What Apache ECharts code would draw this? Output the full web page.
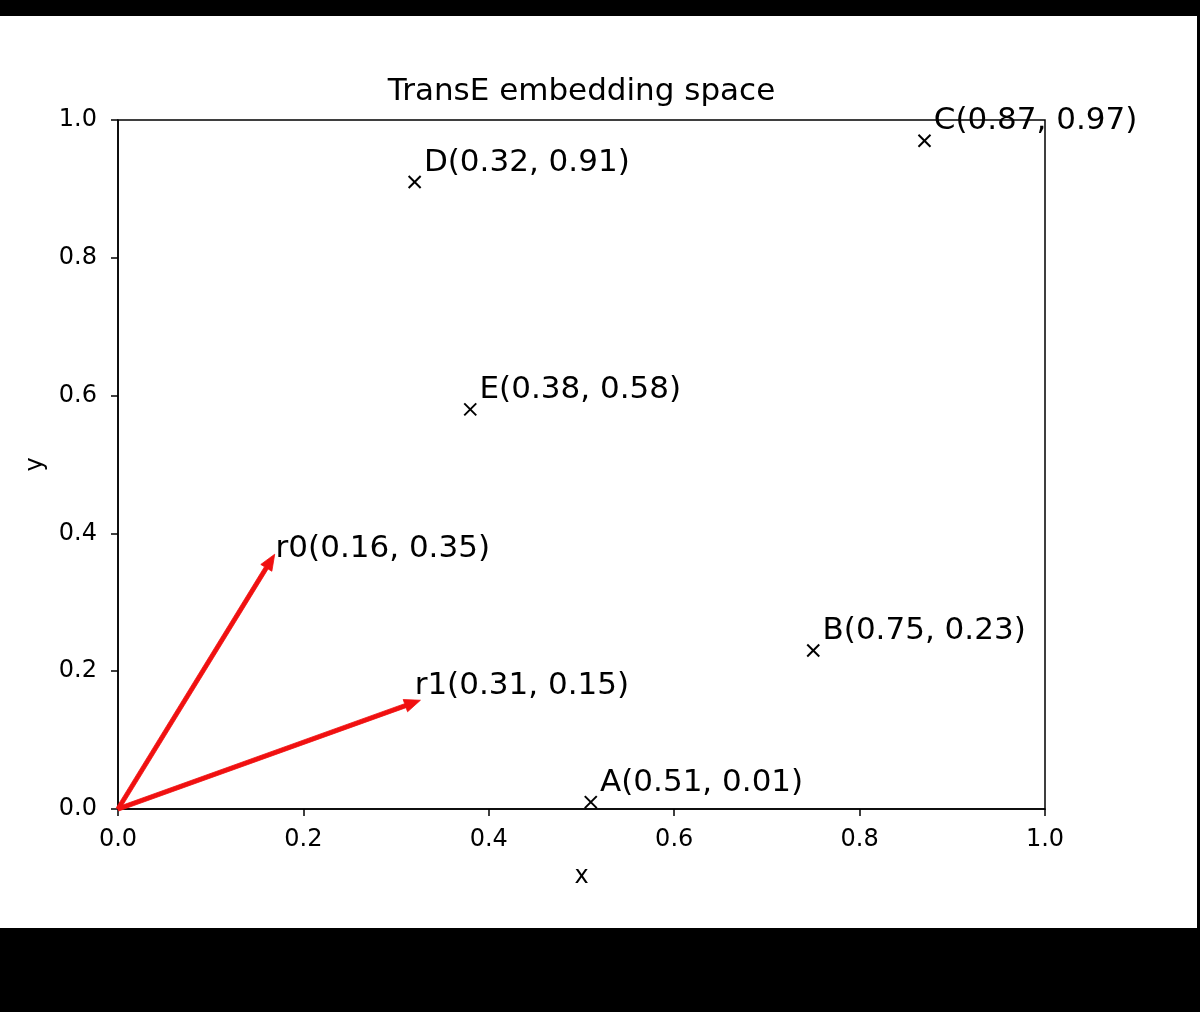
<!DOCTYPE html>
<html>
<head>
<meta charset="utf-8">
<script src="https://cdn.jsdelivr.net/npm/echarts@6/dist/echarts.min.js"></script>
<style>
  html, body { margin: 0; padding: 0; background: #000; width: 1200px; height: 1012px; overflow: hidden; }
  #chart { position: absolute; left: 0; top: 16px; width: 1197px; height: 912px; background: #fff; }
</style>
</head>
<body>
<div id="chart"></div>
<script>
// ---- data ----
const entityNames = ['A', 'B', 'C', 'D', 'E'];
const entityX = [0.51, 0.75, 0.87, 0.32, 0.38];
const entityY = [0.01, 0.23, 0.97, 0.91, 0.58];
const relationNames = ['r0', 'r1'];
const relationX = [0.16, 0.31];
const relationY = [0.35, 0.15];
const axisTicks = [0, 0.2, 0.4, 0.6, 0.8, 1.0];
const titleText = 'TransE embedding space';

// ---- styling constants ----
const FONT = 'DejaVu Sans';
const LABEL_OFFSET = 0.01;   // label placed at (x+0.01, y+0.01) in data units
const LABEL_SIZE = 31;

function fmt(v) { return v.toFixed(2); }

const entityData = entityNames.map((n, i) => [entityX[i], entityY[i], n]);
const relationData = relationNames.map((n, i) => [relationX[i], relationY[i], n]);

const chart = echarts.init(document.getElementById('chart'), null, { renderer: 'canvas' });

function labelEl(api, x, y, name) {
  const p = api.coord([x + LABEL_OFFSET, y + LABEL_OFFSET]);
  return {
    type: 'text',
    style: {
      x: p[0], y: p[1] + 3,
      text: name + '(' + fmt(x) + ', ' + fmt(y) + ')',
      font: LABEL_SIZE + 'px "' + FONT + '"',
      fill: '#000',
      textAlign: 'left',
      textVerticalAlign: 'bottom'
    },
    z2: 10
  };
}

const option = {
  backgroundColor: '#fff',
  animation: false,
  grid: {
    left: 118, top: 104, right: 152, bottom: 119,
    show: true, borderColor: '#000', borderWidth: 1.5, backgroundColor: '#fff'
  },
  graphic: [{
    type: 'text',
    style: {
      x: 581.5, y: 76,
      text: titleText,
      font: '31px "' + FONT + '"',
      fill: '#000',
      textAlign: 'center',
      textVerticalAlign: 'middle'
    }
  }],
  xAxis: {
    type: 'value', min: 0, max: 1, interval: 0.2,
    name: 'x', nameLocation: 'middle', nameGap: 56,
    nameTextStyle: { fontFamily: FONT, fontSize: 24, color: '#000' },
    axisLine: { show: true, lineStyle: { color: '#000', width: 1.5 } },
    axisTick: { show: true, length: 7, lineStyle: { color: '#000', width: 1.5 } },
    axisLabel: { fontFamily: FONT, fontSize: 24, color: '#000', margin: 19,
      formatter: v => v.toFixed(1) },
    splitLine: { show: false }
  },
  yAxis: {
    type: 'value', min: 0, max: 1, interval: 0.2,
    name: 'y', nameLocation: 'middle', nameGap: 70, nameRotate: 90,
    nameTextStyle: { fontFamily: FONT, fontSize: 24, color: '#000' },
    axisLine: { show: true, lineStyle: { color: '#000', width: 1.5 } },
    axisTick: { show: true, length: 7, lineStyle: { color: '#000', width: 1.5 } },
    axisLabel: { fontFamily: FONT, fontSize: 24, color: '#000', margin: 21,
      formatter: v => v.toFixed(1) },
    splitLine: { show: false }
  },
  series: [
    {
      type: 'custom',
      name: 'relations',
      clip: false,
      data: relationData,
      renderItem: function (params, api) {
        const x = api.value(0), y = api.value(1), name = relationData[params.dataIndex][2];
        const p0 = api.coord([0, 0]);
        const p1 = api.coord([x, y]);
        const dx = p1[0] - p0[0], dy = p1[1] - p0[1];
        const len = Math.sqrt(dx * dx + dy * dy);
        const ux = dx / len, uy = dy / len;
        const nx = -uy, ny = ux;
        const sw = 2.1, hw = 6.5, hl = 16;
        const tip = [p1[0] + ux * hl, p1[1] + uy * hl];
        const pts = [
          [p0[0] + nx * sw, p0[1] + ny * sw],
          [p1[0] + nx * sw, p1[1] + ny * sw],
          [p1[0] + nx * hw, p1[1] + ny * hw],
          tip,
          [p1[0] - nx * hw, p1[1] - ny * hw],
          [p1[0] - nx * sw, p1[1] - ny * sw],
          [p0[0] - nx * sw, p0[1] - ny * sw]
        ];
        return {
          type: 'group',
          children: [
            { type: 'polygon', shape: { points: pts }, style: { fill: '#f01010', stroke: '#f01010', lineWidth: 0.8 } },
            labelEl(api, x, y, name)
          ]
        };
      }
    },
    {
      type: 'custom',
      name: 'entities',
      clip: false,
      data: entityData,
      renderItem: function (params, api) {
        const x = api.value(0), y = api.value(1), name = entityData[params.dataIndex][2];
        const p = api.coord([x, y]);
        const s = 6;
        const st = { stroke: '#000', lineWidth: 2 };
        return {
          type: 'group',
          children: [
            { type: 'line', shape: { x1: p[0] - s, y1: p[1] - s, x2: p[0] + s, y2: p[1] + s }, style: st },
            { type: 'line', shape: { x1: p[0] - s, y1: p[1] + s, x2: p[0] + s, y2: p[1] - s }, style: st },
            labelEl(api, x, y, name)
          ]
        };
      }
    }
  ]
};

chart.setOption(option);
</script>
</body>
</html>
